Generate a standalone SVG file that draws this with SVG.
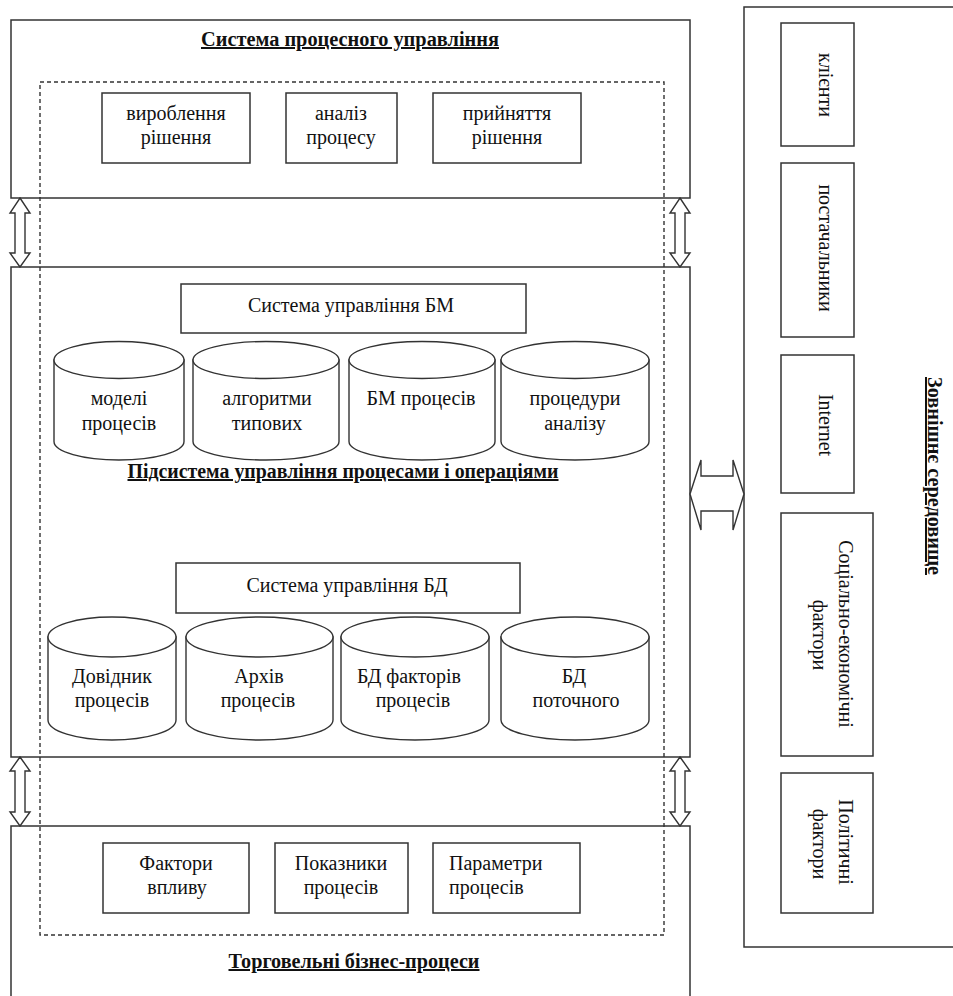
<svg xmlns="http://www.w3.org/2000/svg" width="953" height="996" viewBox="0 0 953 996">
<style>
.bx{fill:#fff;stroke:#333;stroke-width:1.5}
.fr{fill:none;stroke:#333;stroke-width:1.5}
.dash{fill:none;stroke:#333;stroke-width:1.4;stroke-dasharray:4 3}
.cyl{fill:#fff;stroke:#333;stroke-width:1.4}
.ar{fill:#fff;stroke:#333;stroke-width:1.4;stroke-linejoin:miter}
text{font-family:"Liberation Serif","Times New Roman",serif;font-size:20px;fill:#111}
.c{text-anchor:middle}
.t{font-weight:bold;text-decoration:underline;text-anchor:middle}
</style>
<rect width="953" height="996" fill="#fff"/>

<g id="system-process-management">
<rect class="bx" x="11" y="20" width="679" height="178"/>
<text class="t" x="350" y="46" textLength="298" lengthAdjust="spacingAndGlyphs">Система процесного управління</text>
</g>

<g id="subsystem-processes">
<rect class="bx" x="11" y="267" width="679" height="490"/>
<text class="t" x="343" y="478" textLength="431" lengthAdjust="spacingAndGlyphs">Підсистема управління процесами і операціями</text>
</g>

<g id="trade-business-processes">
<rect class="bx" x="11" y="826" width="679" height="200"/>
<text class="t" x="354" y="968" textLength="251" lengthAdjust="spacingAndGlyphs">Торговельні бізнес-процеси</text>
</g>

<g id="dashed-frame">
<rect class="dash" x="40" y="82" width="624" height="853"/>
</g>

<g id="node-vyroblennia">
<rect class="bx" x="102" y="93" width="148" height="70"/>
<text class="c" x="176" y="120">вироблення</text>
<text class="c" x="176" y="144">рішення</text>
</g>
<g id="node-analiz">
<rect class="bx" x="286" y="93" width="111" height="70"/>
<text class="c" x="341" y="120">аналіз</text>
<text class="c" x="341" y="144">процесу</text>
</g>
<g id="node-pryiniattia">
<rect class="bx" x="433" y="93" width="148" height="70"/>
<text class="c" x="507" y="120">прийняття</text>
<text class="c" x="507" y="144">рішення</text>
</g>

<g id="node-sys-bm">
<rect class="bx" x="181" y="284" width="345" height="49"/>
<text class="c" x="351" y="312">Система управління БМ</text>
</g>

<g id="cyl-modeli">
<path class="cyl" d="M54,360 V441.5 A65,18.5 0 0 0 184,441.5 V360 Z"/>
<ellipse class="cyl" cx="119" cy="360" rx="65" ry="18.5"/>
<text class="c" x="119" y="405">моделі</text>
<text class="c" x="119" y="430">процесів</text>
</g>
<g id="cyl-alhorytmy">
<path class="cyl" d="M193,360 V441.5 A73,18.5 0 0 0 339,441.5 V360 Z"/>
<ellipse class="cyl" cx="266" cy="360" rx="73" ry="18.5"/>
<text class="c" x="267" y="405">алгоритми</text>
<text class="c" x="267" y="430">типових</text>
</g>
<g id="cyl-bm-protsesiv">
<path class="cyl" d="M349,360 V441.5 A73,18.5 0 0 0 495,441.5 V360 Z"/>
<ellipse class="cyl" cx="422" cy="360" rx="73" ry="18.5"/>
<text class="c" x="421" y="405">БМ процесів</text>
</g>
<g id="cyl-protsedury">
<path class="cyl" d="M501,360 V441.5 A74,18.5 0 0 0 649,441.5 V360 Z"/>
<ellipse class="cyl" cx="575" cy="360" rx="74" ry="18.5"/>
<text class="c" x="575" y="405">процедури</text>
<text class="c" x="575" y="430">аналізу</text>
</g>

<g id="node-sys-bd">
<rect class="bx" x="176" y="563" width="344" height="50"/>
<text class="c" x="347" y="592">Система управління БД</text>
</g>

<g id="cyl-dovidnyk">
<path class="cyl" d="M48,637 V720 A64,20 0 0 0 176,720 V637 Z"/>
<ellipse class="cyl" cx="112" cy="637" rx="64" ry="20"/>
<text class="c" x="112" y="683">Довідник</text>
<text class="c" x="112" y="707">процесів</text>
</g>
<g id="cyl-arkhiv">
<path class="cyl" d="M186,637 V720 A73.5,20 0 0 0 333,720 V637 Z"/>
<ellipse class="cyl" cx="259.5" cy="637" rx="73.5" ry="20"/>
<text class="c" x="259" y="683">Архів</text>
<text class="c" x="258" y="707">процесів</text>
</g>
<g id="cyl-bd-faktoriv">
<path class="cyl" d="M341,637 V720 A74,20 0 0 0 489,720 V637 Z"/>
<ellipse class="cyl" cx="415" cy="637" rx="74" ry="20"/>
<text class="c" x="409" y="683">БД факторів</text>
<text class="c" x="413" y="707">процесів</text>
</g>
<g id="cyl-bd-potochnoho">
<path class="cyl" d="M501,637 V720 A74,20 0 0 0 649,720 V637 Z"/>
<ellipse class="cyl" cx="575" cy="637" rx="74" ry="20"/>
<text class="c" x="574" y="683">БД</text>
<text class="c" x="576" y="707">поточного</text>
</g>

<g id="node-faktory-vplyvu">
<rect class="bx" x="103" y="843" width="146" height="70"/>
<text class="c" x="176" y="870">Фактори</text>
<text class="c" x="177" y="894">впливу</text>
</g>
<g id="node-pokaznyky">
<rect class="bx" x="275" y="843" width="133" height="70"/>
<text class="c" x="341" y="870">Показники</text>
<text class="c" x="341" y="894">процесів</text>
</g>
<g id="node-parametry">
<rect class="bx" x="433" y="843" width="147" height="70"/>
<text x="449" y="870">Параметри</text>
<text x="449" y="894">процесів</text>
</g>

<g id="external-environment">
<path class="fr" d="M960,7 H744 V947 H960"/>
<text class="t" transform="translate(928,476) rotate(90)" x="0" y="0" textLength="198" lengthAdjust="spacingAndGlyphs">Зовнішнє середовище</text>
</g>

<g id="node-klienty">
<rect class="bx" x="781" y="23" width="73" height="123"/>
<text class="c" transform="translate(819,85) rotate(90)">клієнти</text>
</g>
<g id="node-postachalnyky">
<rect class="bx" x="781" y="163" width="73" height="174"/>
<text class="c" transform="translate(819,248) rotate(90)">постачальники</text>
</g>
<g id="node-internet">
<rect class="bx" x="781" y="355" width="73" height="138"/>
<text class="c" transform="translate(819,425) rotate(90)">Internet</text>
</g>
<g id="node-sotsialno">
<rect class="bx" x="781" y="513" width="92" height="243"/>
<text class="c" transform="translate(839,634) rotate(90)">Соціально-економічні</text>
<text class="c" transform="translate(813,635) rotate(90)">фактори</text>
</g>
<g id="node-politychni">
<rect class="bx" x="781" y="773" width="92" height="140"/>
<text class="c" transform="translate(839,842) rotate(90)">Політичні</text>
<text class="c" transform="translate(813,844) rotate(90)">фактори</text>
</g>

<g id="connectors">
<polygon class="ar" points="20,198 30,213 25,213 25,253 30,253 20,267 10,253 15,253 15,213 10,213"/>
<polygon class="ar" points="680,198 690,213 685,213 685,253 690,253 680,267 670,253 675,253 675,213 670,213"/>
<polygon class="ar" points="20,757 30,771 25,771 25,812 30,812 20,826 10,812 15,812 15,771 10,771"/>
<polygon class="ar" points="680,757 690,771 685,771 685,812 690,812 680,826 670,812 675,812 675,771 670,771"/>
<polygon class="ar" points="690,494 701,460 701,476 733,476 733,460 744,494 733,530 733,511 701,511 701,530"/>
</g>
</svg>
